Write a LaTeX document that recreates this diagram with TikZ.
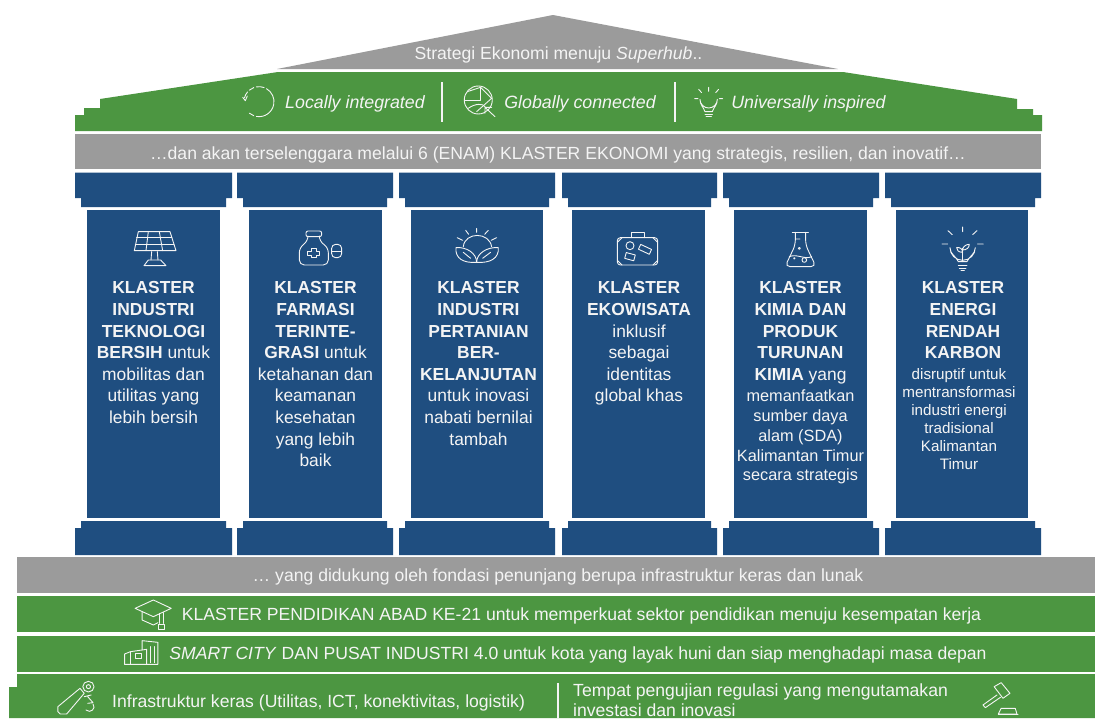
\documentclass[tikz,border=0pt]{standalone}
\usepackage{fontspec}
\setmainfont{Liberation Sans}
\definecolor{hgreen}{HTML}{4C9641}
\definecolor{hgray}{HTML}{9B9B9B}
\definecolor{hblue}{HTML}{1F4E80}
\definecolor{htext}{HTML}{F4F4F4}
\newcommand{\colsmall}{\fontsize{16.3}{20}\selectfont}
\newcommand{\coltiny}{\fontsize{15.2}{18}\selectfont\hspace*{-8pt}}
\tikzset{
  x=1pt,y=-1pt,
  lbl/.style={text=htext,inner sep=0pt,font=\fontsize{17.6}{20}\selectfont},
  lblit/.style={text=htext,inner sep=0pt,font=\fontsize{17.8}{20}\selectfont\itshape},
  coltext/.style={text=htext,inner sep=0pt,anchor=north,align=center,font=\fontsize{17.4}{21.6}\selectfont},
  ico/.style={draw=htext,line width=0.9pt,line cap=round,line join=round},
  icon/.style={x=0.3333pt,y=-0.3333pt},
  iconb/.style={x=0.3509pt,y=-0.3333pt},
  sep/.style={draw=htext,line width=1.3pt},
}
\newcommand{\pillar}[7]{%
  \fill[hblue] (#1,172.5) -- (#2,172.5) -- (#2,198) -- (#2-6,198) -- (#2-6,207) -- (#1+6,207) -- (#1+6,198) -- (#1,198) -- cycle;
  \fill[hblue] (#3,209.5) rectangle (#4,518);
  \fill[hblue] (#1+6,521) -- (#2-6,521) -- (#2-6,528) -- (#2,528) -- (#2,555) -- (#1,555) -- (#1,528) -- (#1+6,528) -- cycle;
  \node[coltext] (#5) at (#6,281.5) {#7};
}
\begin{document}
\begin{tikzpicture}
\useasboundingbox (0,0) rectangle (1095,718);
\fill[white] (0,0) rectangle (1095,718);
% roof
\fill[hgray] (553,15) -- (838,69) -- (277,69) -- cycle;
\fill[hgreen] (278,72) -- (843,72) -- (1017,99) -- (1017,109) -- (1033,109) -- (1033,115) -- (1042,115) -- (1042,131) -- (75,131) -- (75,115) -- (84,115) -- (84,108) -- (100,108) -- (100,99) -- cycle;
\fill[hgray] (75,133.5) rectangle (1041,169);
% pillars
\pillar{75}{232}{87}{220}{c1}{153.5}{\textbf{KLASTER}\\\textbf{INDUSTRI}\\\textbf{TEKNOLOGI}\\\textbf{BERSIH} untuk\\mobilitas dan\\utilitas yang\\lebih bersih}
\pillar{237}{393}{249}{382}{c2}{315.5}{\textbf{KLASTER}\\\textbf{FARMASI}\\\textbf{TERINTE-}\\\textbf{GRASI} untuk\\ketahanan dan\\keamanan\\kesehatan\\yang lebih\\baik}
\pillar{399}{555}{411}{543}{c3}{478.5}{\textbf{KLASTER}\\\textbf{INDUSTRI}\\\textbf{PERTANIAN}\\\textbf{BER-}\\\textbf{KELANJUTAN}\\untuk inovasi\\nabati bernilai\\tambah}
\pillar{562}{717}{572}{705}{c4}{639}{\textbf{KLASTER}\\\textbf{EKOWISATA}\\inklusif\\sebagai\\identitas\\global khas}
\pillar{723}{879}{734}{867}{c5}{800.5}{\textbf{KLASTER}\\\textbf{KIMIA DAN}\\\textbf{PRODUK}\\\textbf{TURUNAN}\\\textbf{KIMIA} yang\\[-0.6pt]\colsmall memanfaatkan\\[-1.4pt]\colsmall sumber daya\\[-1.6pt]\colsmall alam (SDA)\\[-1.6pt]\colsmall Kalimantan Timur\\[-2.2pt]\colsmall secara strategis}
\pillar{885}{1041}{896}{1028}{c6}{963}{\textbf{KLASTER}\\\textbf{ENERGI}\\\textbf{RENDAH}\\\textbf{KARBON}\\[-0.5pt]\coltiny disruptif untuk\\[-3.6pt]\coltiny mentransformasi\\[-3.6pt]\coltiny industri energi\\[-3.6pt]\coltiny tradisional\\[-3.6pt]\coltiny Kalimantan\\[-3.6pt]\coltiny Timur}
% foundation
\fill[hgray] (17,557) rectangle (1095,593);
\fill[hgreen] (17,596) rectangle (1095,632);
\fill[hgreen] (17,636) rectangle (1095,672);
\fill[hgreen] (17,674) -- (1095,674) -- (1095,718) -- (9,718) -- (9,687) -- (17,687) -- cycle;
% labels
\node[lbl] (roof) at (558.5,55) {Strategi Ekonomi menuju \textit{Superhub}..};
\node[lblit] (loc) at (355,103.5) {Locally integrated};
\node[lblit] (glo) at (580,103.5) {Globally connected};
\node[lblit] (uni) at (808.5,103.5) {Universally inspired};
\node[lbl] (band1) at (558,154.5) {…dan akan terselenggara melalui 6 (ENAM) KLASTER EKONOMI yang strategis, resilien, dan inovatif…};
\node[lbl] (band2) at (558,577) {… yang didukung oleh fondasi penunjang berupa infrastruktur keras dan lunak};
\node[lbl] (f1) at (581.5,616) {KLASTER PENDIDIKAN ABAD KE-21 untuk memperkuat sektor pendidikan menuju kesempatan kerja};
\node[lbl] (f2) at (578,654.5) {\textit{SMART CITY} DAN PUSAT INDUSTRI 4.0 untuk kota yang layak huni dan siap menghadapi masa depan};
\node[lbl,anchor=west] (f3) at (112,703) {Infrastruktur keras (Utilitas, ICT, konektivitas, logistik)};
\node[lbl,anchor=west] (f4a) at (573,691.5) {Tempat pengujian regulasi yang mengutamakan};
\node[lbl,anchor=west] (f4b) at (573,710.5) {investasi dan inovasi};
% separators
\draw[sep] (442,82) -- (442,122);
\draw[sep] (675,82) -- (675,122);
\draw[sep] (558,683) -- (558,718);
% top icons (zoom coordinates)
\begin{scope}[shift={(60,0)},icon]
  \draw[ico] (597,305) ++(100:45) arc (100:-60:45);
  \draw[ico] (597,305) ++(-70:45) arc (-70:-100:45);
  \draw[ico] (597,305) ++(-110:45) arc (-110:-130:45);
  \draw[ico] (597,305) ++(-140:45) arc (-140:-165:45);
  \draw[ico] (597,305) ++(130:45) arc (130:110:45);
  \draw[ico] (548,292) -- (556,302) -- (562,288);
  % globe
  \draw[ico] (1255,300) circle (42);
  \draw[ico] (1222,275) -- (1262,262) -- (1295,295) -- (1250,335);
  \draw[ico] (1215,300) -- (1262,300) -- (1262,262);
  \draw[ico] (1225,325) .. controls (1245,310) and (1270,310) .. (1275,320);
  \draw[ico] (1305,350) -- (1275,322) (1275,340) -- (1275,322) -- (1295,322);
\end{scope}
\begin{scope}[shift={(540,0)},icon]
  \draw[ico] (495,335) .. controls (490,320) and (480,315) .. (480,298) arc (180:0:26) .. controls (532,315) and (522,320) .. (517,335) -- cycle;
  \draw[ico] (495,342) -- (517,342) (498,350) -- (514,350);
  \draw[ico] (506,262) -- (506,274) (476,268) -- (485,278) (536,268) -- (527,278) (464,296) -- (474,296) (538,296) -- (548,296);
\end{scope}
% pillar icons
\begin{scope}[shift={(80,215)},icon]
  \draw[ico] (175,50) -- (270,50) -- (288,107) -- (163,107) -- cycle;
  \draw[ico] (170,68) -- (276,68) (166,87) -- (282,87);
  \draw[ico] (205,50) -- (198,107) (238,50) -- (248,107);
  \draw[ico] (215,110) -- (213,135) (232,110) -- (234,135);
  \draw[ico] (205,135) -- (242,135) -- (258,152) -- (192,152) -- cycle;
  % bottle
  \draw[ico,rounded corners=2pt] (678,48) rectangle (725,65);
  \draw[ico,rounded corners=5pt] (684,65) -- (684,78) -- (658,98) -- (658,150) -- (745,150) -- (745,98) -- (718,78) -- (718,65);
  \draw[ico] (693,100) -- (708,100) -- (708,108) -- (718,108) -- (718,120) -- (708,120) -- (708,128) -- (693,128) -- (693,120) -- (682,120) -- (682,108) -- (693,108) -- cycle;
  \draw[ico,rounded corners=4pt] (755,88) rectangle (785,128);
  \draw[ico] (755,108) -- (785,108);
  % sun and leaves
  \draw[ico] (1190,40) -- (1190,52) (1157,46) -- (1166,58) (1225,46) -- (1214,58) (1132,68) -- (1148,76) (1250,68) -- (1234,76);
  \draw[ico] (1150,95) .. controls (1155,50) and (1228,50) .. (1235,95);
  \draw[ico] (1190,142) .. controls (1150,145) and (1125,130) .. (1128,98) .. controls (1160,95) and (1190,115) .. (1190,142);
  \draw[ico] (1190,142) .. controls (1230,145) and (1258,130) .. (1255,98) .. controls (1222,95) and (1190,115) .. (1190,142);
  \draw[ico] (1150,112) -- (1172,130) (1232,112) -- (1208,130);
\end{scope}
\begin{scope}[shift={(560,215)},icon]
  % suitcase
  \draw[ico,rounded corners=3pt] (172,68) rectangle (293,150);
  \draw[ico] (213,68) -- (213,52) -- (252,52) -- (252,68);
  \draw[ico] (210,92) circle (12);
  \draw[ico,rotate around={-25:(255,103)}] (237,95) rectangle (273,111);
  \draw[ico,rotate around={-15:(210,125)}] (196,116) rectangle (224,134);
  \draw[ico] (172,82) -- (186,68) (279,68) -- (293,82) (172,136) -- (186,150) (279,150) -- (293,136);
  % flask
  \draw[ico] (697,52) -- (745,52);
  \draw[ico,rounded corners=5pt] (706,52) -- (706,90) -- (675,155) -- (768,155) -- (737,90) -- (737,52);
  \draw[ico] (708,72) -- (720,72) (688,125) .. controls (710,115) and (735,135) .. (755,125);
  \draw[ico] (733,135) circle (7);
  \draw[ico] (703,130) circle (2);
  \draw[ico] (718,100) circle (3);
  % bulb
  \draw[ico] (1195,140) .. controls (1190,125) and (1170,118) .. (1170,98) arc (180:0:38) .. controls (1246,118) and (1226,125) .. (1221,140) -- cycle;
  \draw[ico] (1195,150) -- (1221,150) (1198,160) -- (1218,160) (1203,167) -- (1213,167);
  \draw[ico] (1208,140) -- (1208,100);
  \draw[ico] (1208,112) .. controls (1195,112) and (1190,105) .. (1190,98) .. controls (1200,96) and (1208,102) .. (1208,112);
  \draw[ico] (1208,105) .. controls (1208,95) and (1218,88) .. (1228,88) .. controls (1228,98) and (1220,105) .. (1208,105);
  \draw[ico] (1208,36) -- (1208,50) (1164,47) -- (1177,59) (1251,47) -- (1238,59) (1146,87) -- (1163,87) (1270,87) -- (1253,87);
\end{scope}
% foundation icons
\begin{scope}[shift={(0,510)},iconb]
  % graduation cap
  \draw[ico] (385,295) -- (437,270) -- (488,295) -- (437,320) -- cycle;
  \draw[ico] (405,305) -- (405,330) -- (437,345) -- (450,338);
  \draw[ico] (465,308) -- (465,340);
  \draw[ico] (455,310) -- (455,340);
  \draw[ico] (452,342) rectangle (468,358);
  % buildings
  \draw[ico] (355,463) -- (355,432) -- (372,425) -- (372,463);
  \draw[ico] (355,463) -- (450,463) -- (450,397) -- (405,392) -- (405,420);
  \draw[ico] (372,425) -- (418,418) -- (418,463);
  \draw[ico] (385,430) rectangle (402,445);
  \draw[ico] (430,410) -- (430,458) (441,410) -- (441,458);
  % infrastructure
  \draw[ico] (165,605) -- (165,590) -- (228,535) -- (240,550) -- (190,612) -- (172,612) -- cycle;
  \draw[ico] (252,530) circle (16);
  \draw[ico] (252,530) circle (6);
  \draw[ico] (240,560) -- (260,555) (250,560) -- (265,578) -- (250,580) (265,582) .. controls (275,595) and (258,612) .. (245,600);
\end{scope}
\begin{scope}[shift={(545,510)},iconb]
  \draw[ico] (1280,530) -- (1300,518) -- (1325,550) -- (1305,565) -- cycle;
  \draw[ico] (1288,555) -- (1248,585) -- (1255,593) -- (1298,562);
  \draw[ico] (1300,595) -- (1340,595) -- (1345,612) -- (1292,612) -- cycle;
  \draw[ico] (1292,612) -- (1348,612);
\end{scope}
\end{tikzpicture}
\end{document}
